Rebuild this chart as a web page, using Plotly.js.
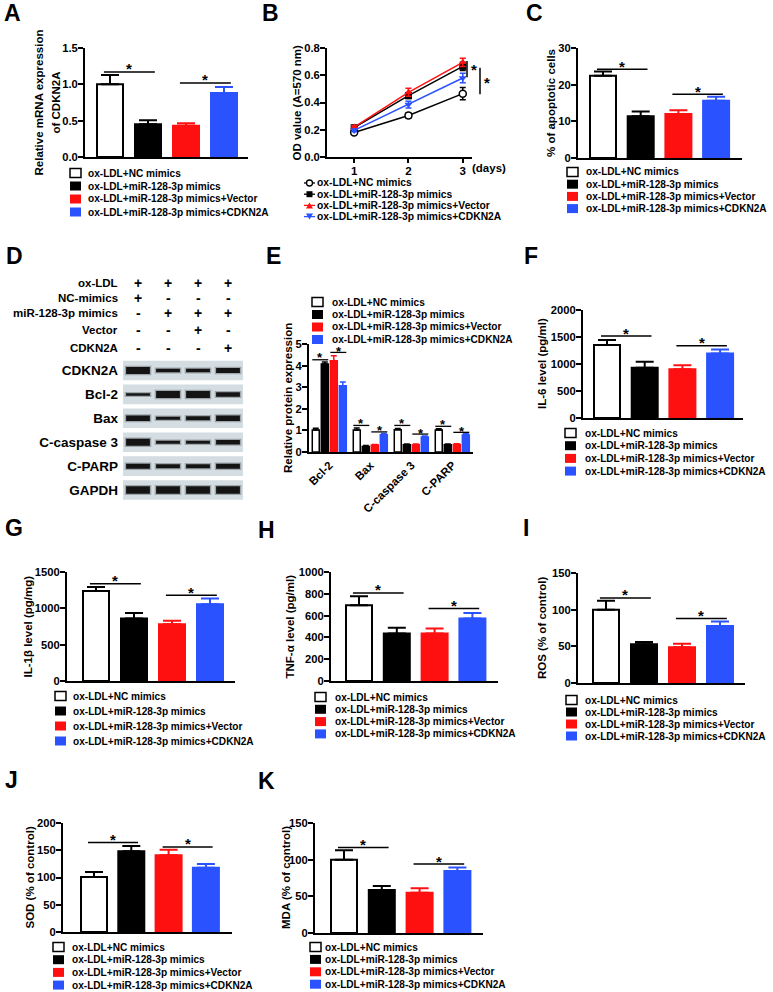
<!DOCTYPE html>
<html><head><meta charset="utf-8">
<script src="https://cdn.plot.ly/plotly-3.0.1.min.js"></script>
<style>html,body{margin:0;padding:0;background:#fff}#chart{width:773px;height:992px}</style>
</head><body><div id="chart"></div>
<script>
// ---------------- data ----------------
const groups = ['ox-LDL+NC mimics', 'ox-LDL+miR-128-3p mimics', 'ox-LDL+miR-128-3p mimics+Vector', 'ox-LDL+miR-128-3p mimics+CDKN2A'];

// A
const mrnaCDKN2A = [1.00, 0.45, 0.43, 0.88];
const mrnaCDKN2AErr = [0.13, 0.055, 0.035, 0.085];
const sigA = [1.17, 1.02];
// B
const days = [1, 2, 3];
const odNC = [0.18, 0.305, 0.465];
const odNCErr = [0.01, 0.02, 0.045];
const odMiR = [0.215, 0.45, 0.665];
const odMiRErr = [0.01, 0.02, 0.03];
const odVector = [0.22, 0.475, 0.695];
const odVectorErr = [0.01, 0.03, 0.03];
const odCDKN2A = [0.195, 0.385, 0.58];
const odCDKN2AErr = [0.01, 0.025, 0.035];
// C
const apoptotic = [22.4, 11.4, 12.0, 15.6];
const apoptoticErr = [1.2, 1.3, 1.0, 1.1];
const sigC = [24.2, 17.4];
// D (western blot)
const lanes = [1, 2, 3, 4];
const treatLabels = ['ox-LDL', 'NC-mimics', 'miR-128-3p mimics', 'Vector', 'CDKN2A'];
const treatMatrix = [
  ['+', '+', '+', '+'],
  ['+', '-', '-', '-'],
  ['-', '+', '+', '+'],
  ['-', '-', '+', '-'],
  ['-', '-', '-', '+']
];
const blotProteins = ['CDKN2A', 'Bcl-2', 'Bax', 'C-caspase 3', 'C-PARP', 'GAPDH'];
const bandThickness = [
  [7, 3.5, 3.5, 5],
  [2.5, 7, 7, 4.5],
  [5.5, 3, 4, 5.5],
  [7, 3, 3, 4.5],
  [5, 4, 4, 5],
  [7.5, 7.5, 7.5, 7.5]
];
// E
const proteins = ['Bcl-2', 'Bax', 'C-caspase 3', 'C-PARP'];
const protNC = [1.02, 1.02, 1.03, 1.02];
const protNCErr = [0.08, 0.09, 0.06, 0.06];
const protMiR = [4.07, 0.26, 0.34, 0.34];
const protMiRErr = [0.1, 0.04, 0.03, 0.03];
const protVector = [4.23, 0.32, 0.34, 0.35];
const protVectorErr = [0.23, 0.03, 0.03, 0.03];
const protCDKN2A = [3.07, 0.80, 0.69, 0.79];
const protCDKN2AErr = [0.17, 0.06, 0.05, 0.05];
const sigE1 = [4.27, 1.23, 1.23, 1.19];
const sigE2 = [4.61, 0.93, 0.83, 0.91];
// F
const il6 = [1350, 929, 904, 1195];
const il6Err = [93, 111, 74, 74];
const sigF = [1517, 1337];
// G
const il1b = [1240, 860, 782, 1056];
const il1bErr = [55, 75, 46, 78];
const sigG = [1340, 1180];
// H
const tnfa = [695, 436, 436, 573];
const tnfaErr = [83, 52, 46, 52];
const sigH = [808, 665];
// I
const ros = [100, 52.7, 48.6, 77.7];
const rosErr = [12, 3.2, 5, 6.3];
const sigI = [116, 88];
// J
const sod = [101, 148, 141, 118];
const sodErr = [9, 10, 10, 7];
const sigJ = [164, 156];
// K
const mda = [100, 58.5, 55, 84.6];
const mdaErr = [12.8, 5.5, 5.9, 4.6];
const sigK = [116.5, 94];

// ---------------- helpers / style ----------------
const W = 773, H = 992;
const px = v => v / W;
const py = v => 1 - v / H;
const FONT = '"Liberation Sans", Arial, Helvetica, sans-serif';
const RED = '#ff1010', BLUE = '#2a52ff';
const fills = ['#ffffff', '#000000', RED, BLUE];
const edges = ['#000000', '#000000', RED, BLUE];
const LEGFONT = 10.1;

const traces = [], shapes = [], annotations = [];
const layout = {
  width: W, height: H, margin: {l: 0, r: 0, t: 0, b: 0},
  paper_bgcolor: '#ffffff', plot_bgcolor: 'rgba(0,0,0,0)',
  showlegend: false, barmode: 'overlay',
  font: {family: FONT, size: 11.5, color: '#000', weight: 'bold'},
  shapes: shapes, annotations: annotations
};

function ids(n) {
  return n === 1 ? ['x', 'y', 'xaxis', 'yaxis'] : ['x' + n, 'y' + n, 'xaxis' + n, 'yaxis' + n];
}
function yAxisCfg(T, B, range, dtick, anchor, fmt) {
  return {domain: [py(B), py(T)], range: range, dtick: dtick, tick0: 0, anchor: anchor,
    tickformat: fmt || '', showline: true, linewidth: 2, linecolor: '#000',
    ticks: 'outside', ticklen: 5, tickwidth: 2, tickcolor: '#000', ticklabelstandoff: -2,
    showgrid: false, zeroline: false, fixedrange: true,
    tickfont: {family: FONT, size: 11.2, weight: 'bold'}};
}
function yTitle(x, T, B, text) {
  annotations.push({xref: 'paper', yref: 'paper', x: px(x), y: py((T + B) / 2), text: text,
    textangle: -90, showarrow: false, xanchor: 'center', yanchor: 'middle',
    font: {size: 11.5, weight: 'bold'}});
}
function letter(t, x, y) {
  annotations.push({xref: 'paper', yref: 'paper', x: px(x), y: py(y), text: t, showarrow: false,
    xanchor: 'center', yanchor: 'middle', font: {size: 23, weight: 'bold'}});
}
function star(xref, yref, x, y, size, yshift) {
  annotations.push({xref: xref, yref: yref, x: x, y: y, text: '*', showarrow: false,
    xanchor: 'center', yanchor: 'middle', yshift: yshift, font: {size: size, weight: 'bold'}});
}
function boxLegend(L) {
  groups.forEach((g, i) => {
    const yc = L.y0 + i * L.dy;
    shapes.push({type: 'rect', xref: 'paper', yref: 'paper', x0: px(L.sx), x1: px(L.sx + 11),
      y0: py(yc + 4.5), y1: py(yc - 4.5), fillcolor: fills[i],
      line: {color: edges[i], width: i === 0 ? 1.5 : 0}});
    annotations.push({xref: 'paper', yref: 'paper', x: px(L.tx - 2), y: py(yc), text: g,
      showarrow: false, xanchor: 'left', yanchor: 'middle', font: {size: LEGFONT, weight: 'bold'}});
  });
}

function barPanel(P, vals, errs, sig) {
  const [xa, ya, xk, yk] = ids(P.n);
  const w = 26 / P.p;
  layout[xk] = {domain: [px(P.L), px(P.R)], range: [(P.L - P.c0) / P.p, (P.R - P.c0) / P.p],
    anchor: ya, showline: true, linewidth: 2, linecolor: '#000', ticks: '',
    showticklabels: false, showgrid: false, zeroline: false, fixedrange: true};
  layout[yk] = yAxisCfg(P.T, P.B, P.yr, P.dtick, xa, P.fmt);
  vals.forEach((v, i) => {
    traces.push({type: 'bar', xaxis: xa, yaxis: ya, x: [i], y: [v], width: w, offset: -w / 2,
      name: groups[i], showlegend: false,
      marker: {color: fills[i], line: {color: edges[i], width: 2}},
      error_y: {type: 'data', symmetric: false, array: [errs[i]], arrayminus: [0],
        color: edges[i], thickness: 2, width: 9}});
  });
  [[0, 1], [2, 3]].forEach(([i, j], k) => {
    shapes.push({type: 'line', xref: xa, yref: ya, x0: i - 0.16, x1: j + 0.18, y0: sig[k], y1: sig[k],
      line: {color: '#000', width: 1.5}});
    star(xa, ya, (i + j) / 2 + 0.01, sig[k], 15, 3);
  });
  if (Array.isArray(P.title)) {
    P.title.forEach((t, k) => yTitle(P.tx[k], P.T, P.B, t));
  } else {
    yTitle(P.tx, P.T, P.B, P.title);
  }
  boxLegend(P.leg);
}

// ---------------- bar panels ----------------
barPanel({n: 1, L: 85, R: 248, T: 48, B: 157, c0: 110, p: 38, yr: [0, 1.5], dtick: 0.5, fmt: '.1f',
  tx: [39, 56], title: ['Relative mRNA expression', 'of CDKN2A'], leg: {sx: 70, tx: 88, y0: 173, dy: 13}},
  mrnaCDKN2A, mrnaCDKN2AErr, sigA);
barPanel({n: 3, L: 578, R: 742, T: 48, B: 158, c0: 603, p: 37.7, yr: [0, 30], dtick: 10,
  tx: 551, title: '% of apoptotic cells', leg: {sx: 567, tx: 586, y0: 172, dy: 12.2}},
  apoptotic, apoptoticErr, sigC);
barPanel({n: 6, L: 583, R: 743, T: 310, B: 418, c0: 607, p: 37.7, yr: [0, 2000], dtick: 500,
  tx: 542, title: 'IL-6 level (pg/ml)', leg: {sx: 565, tx: 585, y0: 433, dy: 12.7}},
  il6, il6Err, sigF);
barPanel({n: 7, L: 67, R: 235, T: 572, B: 681, c0: 96, p: 38, yr: [0, 1500], dtick: 500,
  tx: 27, title: 'IL-1β level (pg/mg)', leg: {sx: 55, tx: 73, y0: 696, dy: 15}},
  il1b, il1bErr, sigG);
barPanel({n: 8, L: 331, R: 498, T: 572, B: 681, c0: 359, p: 37.8, yr: [0, 1000], dtick: 200,
  tx: 289, title: 'TNF-α level (pg/ml)', leg: {sx: 315, tx: 335, y0: 697, dy: 12.3}},
  tnfa, tnfaErr, sigH);
barPanel({n: 9, L: 578, R: 745, T: 573, B: 683, c0: 606, p: 38, yr: [0, 150], dtick: 50,
  tx: 542, title: 'ROS (% of control)', leg: {sx: 566, tx: 585, y0: 700, dy: 12}},
  ros, rosErr, sigI);
barPanel({n: 10, L: 63, R: 232, T: 823, B: 932, c0: 94, p: 37.3, yr: [0, 200], dtick: 50,
  tx: 29, title: 'SOD (% of control)', leg: {sx: 53, tx: 72, y0: 947, dy: 12.7}},
  sod, sodErr, sigJ);
barPanel({n: 11, L: 315, R: 483, T: 823, B: 933, c0: 344, p: 37.8, yr: [0, 150], dtick: 50,
  tx: 286, title: 'MDA (% of control)', leg: {sx: 310, tx: 325, y0: 947, dy: 12.4}},
  mda, mdaErr, sigK);

// ---------------- B: line chart ----------------
(function () {
  const BL = 327, BR = 472, BT = 48, BB = 157;
  layout.xaxis2 = {domain: [px(BL), px(BR)], range: [0.5, 3.17], anchor: 'y2', showline: true,
    linewidth: 2, linecolor: '#000', ticks: 'outside', ticklen: 4, tickwidth: 2, tickcolor: '#000',
    ticklabelstandoff: -2, tickvals: days, showgrid: false, zeroline: false, fixedrange: true,
    tickfont: {family: FONT, size: 11.5, weight: 'bold'}};
  layout.yaxis2 = yAxisCfg(BT, BB, [0, 0.8], 0.2, 'x2', '.1f');
  const series = [
    {y: odNC, e: odNCErr, c: '#000', sym: 'circle', mc: '#fff'},
    {y: odMiR, e: odMiRErr, c: '#000', sym: 'square', mc: '#000'},
    {y: odVector, e: odVectorErr, c: RED, sym: 'triangle-up', mc: RED},
    {y: odCDKN2A, e: odCDKN2AErr, c: BLUE, sym: 'triangle-down', mc: BLUE}
  ];
  series.forEach((s, i) => {
    traces.push({type: 'scatter', mode: 'lines+markers', xaxis: 'x2', yaxis: 'y2', x: days, y: s.y,
      name: groups[i], showlegend: false, line: {color: s.c, width: 1.5},
      marker: {symbol: s.sym, size: 7, color: s.mc, line: {color: s.c, width: i === 0 ? 1.5 : 0}},
      error_y: {type: 'data', array: s.e, color: s.c, thickness: 1.5, width: 3}});
  });
  const dx = p => (p - BL) / (BR - BL);
  shapes.push({type: 'line', xref: 'x2 domain', yref: 'y2', x0: dx(467), x1: dx(467), y0: 0.585, y1: 0.705, line: {color: '#000', width: 1.5}});
  shapes.push({type: 'line', xref: 'x2 domain', yref: 'y2', x0: dx(480), x1: dx(480), y0: 0.46, y1: 0.655, line: {color: '#000', width: 1.5}});
  star('x2 domain', 'y2', dx(474), 0.645, 15, 0);
  star('x2 domain', 'y2', dx(487), 0.55, 15, 0);
  annotations.push({xref: 'paper', yref: 'paper', x: px(489), y: py(168), text: '(days)', showarrow: false,
    xanchor: 'center', yanchor: 'middle', font: {size: 11.5, weight: 'bold'}});
  yTitle(297, BT, BB, 'OD value (A=570 nm)');
  // legend
  const rows = [183, 194.2, 205.4, 216.6];
  rows.forEach((yc, i) => {
    const s = series[i];
    shapes.push({type: 'line', xref: 'paper', yref: 'paper', x0: px(304), x1: px(315), y0: py(yc), y1: py(yc), line: {color: s.c, width: 1.3}});
    if (i === 0) shapes.push({type: 'circle', xref: 'paper', yref: 'paper', x0: px(306.5), x1: px(312.5), y0: py(yc + 3), y1: py(yc - 3), fillcolor: '#fff', line: {color: '#000', width: 1.3}});
    if (i === 1) shapes.push({type: 'rect', xref: 'paper', yref: 'paper', x0: px(306.5), x1: px(312.5), y0: py(yc + 3), y1: py(yc - 3), fillcolor: '#000', line: {width: 0}});
    if (i === 2) shapes.push({type: 'path', xref: 'paper', yref: 'paper', path: `M${px(306)},${py(yc + 3)} L${px(313)},${py(yc + 3)} L${px(309.5)},${py(yc - 3)} Z`, fillcolor: RED, line: {width: 0}});
    if (i === 3) shapes.push({type: 'path', xref: 'paper', yref: 'paper', path: `M${px(306)},${py(yc - 3)} L${px(313)},${py(yc - 3)} L${px(309.5)},${py(yc + 3)} Z`, fillcolor: BLUE, line: {width: 0}});
    annotations.push({xref: 'paper', yref: 'paper', x: px(315), y: py(yc), text: groups[i], showarrow: false,
      xanchor: 'left', yanchor: 'middle', font: {size: 10.3, weight: 'bold'}});
  });
})();

// ---------------- D: western blot ----------------
(function () {
  layout.xaxis4 = {domain: [px(123), px(243)], range: [0.5, 4.5], anchor: 'y4', visible: false, fixedrange: true};
  layout.yaxis4 = {domain: [py(502), py(358.5)], type: 'category', categoryarray: blotProteins,
    categoryorder: 'array', range: [5.5, -0.5], anchor: 'x4', showline: false, showgrid: false,
    zeroline: false, ticks: '', ticklabelstandoff: 4, fixedrange: true,
    tickfont: {family: FONT, size: 13.5, weight: 'bold'}};
  blotProteins.forEach((p, r) => {
    shapes.push({type: 'rect', xref: 'x4', yref: 'y4', x0: 0.5, x1: 4.5, y0: r - 0.41, y1: r + 0.41,
      fillcolor: '#d3dde2', line: {width: 0}, layer: 'below'});
  });
  const bx = [], by = [], bt = [];
  blotProteins.forEach((p, r) => lanes.forEach((l, c) => { bx.push(l); by.push(p); bt.push(bandThickness[r][c]); }));
  // line-ew symbol length is 1.4 x marker size
  traces.push({type: 'scatter', mode: 'markers', xaxis: 'x4', yaxis: 'y4', x: bx, y: by, hoverinfo: 'skip', showlegend: false,
    marker: {symbol: 'line-ew', size: 19, color: 'rgba(40,40,40,0.3)', line: {color: 'rgba(40,40,40,0.3)', width: bt.map(t => t + 2.5)}}});
  traces.push({type: 'scatter', mode: 'markers', xaxis: 'x4', yaxis: 'y4', x: bx, y: by, hoverinfo: 'skip', showlegend: false,
    marker: {symbol: 'line-ew', size: 17, color: '#141414', line: {color: '#141414', width: bt}}});
  const treatY = [283, 298, 313, 330, 348];
  treatLabels.forEach((t, r) => {
    annotations.push({xref: 'paper', yref: 'paper', x: px(120), y: py(treatY[r]), text: t, showarrow: false,
      xanchor: 'right', yanchor: 'middle', font: {size: 11.5, weight: 'bold'}});
    treatMatrix[r].forEach((s, c) => {
      annotations.push({xref: 'x4', yref: 'paper', x: lanes[c], y: py(treatY[r]), text: s, showarrow: false,
        xanchor: 'center', yanchor: 'middle', font: {size: 14, weight: 'bold'}});
    });
  });
})();

// ---------------- E: grouped protein bars ----------------
(function () {
  const EL = 309, ER = 473, ET = 344, EB = 452;
  layout.xaxis5 = {domain: [px(EL), px(ER)], type: 'category', range: [-0.5, 3.5], anchor: 'y5',
    showline: true, linewidth: 2, linecolor: '#000', ticks: '', tickangle: -45, showgrid: false,
    zeroline: false, fixedrange: true, tickfont: {family: FONT, size: 11.5, weight: 'bold'}};
  layout.yaxis5 = yAxisCfg(ET, EB, [0, 5], 1, 'x5', '');
  const sets = [[protNC, protNCErr], [protMiR, protMiRErr], [protVector, protVectorErr], [protCDKN2A, protCDKN2AErr]];
  const offs = [-0.42, -0.2, 0.02, 0.24];
  sets.forEach(([v, e], i) => {
    traces.push({type: 'bar', xaxis: 'x5', yaxis: 'y5', x: proteins, y: v, width: 0.17, offset: offs[i],
      name: groups[i], showlegend: false,
      marker: {color: fills[i], line: {color: edges[i], width: 1.5}},
      error_y: {type: 'data', symmetric: false, array: e, arrayminus: e.map(() => 0), color: edges[i], thickness: 1.5, width: 3}});
  });
  proteins.forEach((p, k) => {
    shapes.push({type: 'line', xref: 'x5', yref: 'y5', x0: k - 0.42, x1: k - 0.03, y0: sigE1[k], y1: sigE1[k], line: {color: '#000', width: 1.3}});
    shapes.push({type: 'line', xref: 'x5', yref: 'y5', x0: k + 0.02, x1: k + 0.41, y0: sigE2[k], y1: sigE2[k], line: {color: '#000', width: 1.3}});
    star('x5', 'y5', k - 0.22, sigE1[k], 13, 2);
    star('x5', 'y5', k + 0.22, sigE2[k], 13, 1);
  });
  yTitle(288, ET, EB, 'Relative protein expression');
  boxLegend({sx: 312, tx: 332, y0: 302, dy: 12.5});
})();

// ---------------- panel letters ----------------
letter('A', 13, 13); letter('B', 270, 13); letter('C', 534, 13);
letter('D', 15, 256); letter('E', 273, 256); letter('F', 531, 256);
letter('G', 14, 528); letter('H', 266, 530); letter('I', 526, 528);
letter('J', 11, 780); letter('K', 266, 781);

Plotly.newPlot('chart', traces, layout, {displayModeBar: false, staticPlot: true});
</script>
</body></html>
